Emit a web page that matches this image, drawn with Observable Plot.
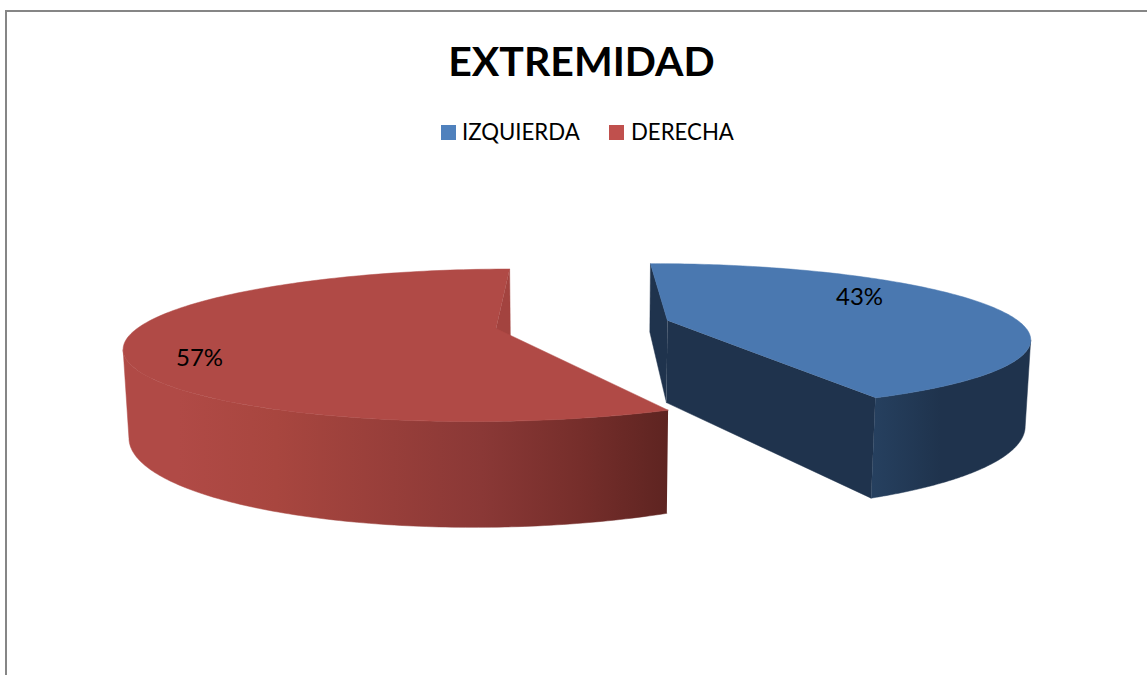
<!DOCTYPE html>
<html lang="es">
<head>
<meta charset="utf-8">
<title>EXTREMIDAD</title>
<script src="https://cdn.jsdelivr.net/npm/d3@7"></script>
<script src="https://cdn.jsdelivr.net/npm/@observablehq/plot@0.6"></script>
<style>
  html, body { margin: 0; padding: 0; background: #fff; width: 1147px; height: 675px; overflow: hidden; }
  body { position: relative; font-family: Lato, "Open Sans", sans-serif; color: #000; }
  #frame { position: absolute; left: 5px; top: 10px; width: 1200px; height: 800px; border-top: 2px solid #868686; border-left: 2px solid #868686; }
  #title { position: absolute; left: 0; width: 1163px; top: 36px; text-align: center; font-size: 41px; line-height: 50px; font-weight: 700; white-space: nowrap; }
  .lg { position: absolute; top: 118px; font-size: 22.2px; line-height: 28px; white-space: nowrap; }
  .sw { position: absolute; top: 125px; width: 15px; height: 15px; }
  #chart { position: absolute; left: 0; top: 150px; }
  #chart svg { display: block; }
</style>
</head>
<body>
<div id="frame"></div>
<div id="title"></div>
<div id="legend"></div>
<div id="chart"></div>
<script>
// Data
const chartTitle = "EXTREMIDAD";
const categories = ["IZQUIERDA", "DERECHA"];
const percentages = [43, 57];
const legendColors = ["#4f81bd", "#c0504d"];

// Perspective projection of the exploded 3D pie (all layout, no data)
const cam = {x0: 582.3, y0: 324, sx: 363, sy: 72.5, p: 0.222, radius: 0.977, ex: 0.236, ey: 0.055, depth: 84, dw: 0.012};
const bisector = 13; // degrees, middle of first slice
const rad = (d) => (d * Math.PI) / 180;
function project(X, Y, bottom) {
  const w = 1 + cam.p * Y + (bottom ? cam.dw : 0);
  return {x: cam.x0 + (cam.sx * X) / w, y: cam.y0 + (-cam.sy * Y + (bottom ? cam.depth : 0)) / w};
}
const total = d3.sum(percentages);
const sweepBlue = (percentages[0] / total) * 360;
const sweepRed = (percentages[1] / total) * 360;
const blueStart = bisector + sweepBlue / 2;
const blueEnd = bisector - sweepBlue / 2;
const redStart = blueEnd;
const redEnd = redStart - sweepRed;
const blueC = [cam.ex, cam.ey];
const redC = [-cam.ex, -cam.ey];
const rim = (c, t, b) => project(c[0] + cam.radius * Math.cos(rad(t)), c[1] + cam.radius * Math.sin(rad(t)), b);
const hub = (c, b) => project(c[0], c[1], b);
const sweep = (a, b, n) => d3.range(n + 1).map((i) => a + ((b - a) * i) / n);

const topFace = (c, a, b) => [hub(c, false), ...sweep(a, b, 160).map((t) => rim(c, t, false))];
const wall = (c, t) => [hub(c, false), rim(c, t, false), rim(c, t, true), hub(c, true)];
const side = (c, a, b) => {
  const ts = sweep(a, b, 120);
  return [...ts.map((t) => rim(c, t, false)), ...ts.slice().reverse().map((t) => rim(c, t, true))];
};
// Angles where each curved side meets its silhouette
const redEdge = d3.least(sweep(redStart, redEnd, 800), (t) => rim(redC, t, false).x);
const blueEdge = d3.greatest(sweep(blueStart, blueEnd, 800), (t) => rim(blueC, t, false).x);

const poly = (pts, color) => Plot.line(pts, {x: "x", y: "y", fill: color, stroke: color, strokeWidth: 0.5, curve: "linear"});

// Horizontal shading of the curved sides
function gradient(id, x1, x2, stops) {
  return `<linearGradient id="${id}" gradientUnits="userSpaceOnUse" x1="${x1}" x2="${x2}" y1="0" y2="0">` +
    stops.map(([o, c]) => `<stop offset="${o}" stop-color="${c}"/>`).join("") + `</linearGradient>`;
}
const defsMark = () => {
  const g = document.createElementNS("http://www.w3.org/2000/svg", "defs");
  g.innerHTML =
    gradient("redSide", 178, 667, [[0, "#b04a46"], [0.2, "#a8463f"], [0.62, "#8a3836"], [0.82, "#762e2b"], [1, "#5e2421"]]) +
    gradient("blueSide", 873, 940, [[0, "#26405f"], [1, "#1f334d"]]);
  return g;
};

document.getElementById("title").textContent = chartTitle;
const lgX = [[441, 462], [609, 631]];
document.getElementById("legend").innerHTML = categories.map((c, i) =>
  `<div class="sw" style="left:${lgX[i][0]}px;background:${legendColors[i]}"></div><div class="lg" style="left:${lgX[i][1]}px">${c}</div>`).join("");

const plot = Plot.plot({
  width: 1147, height: 525,
  margin: 0,
  x: {domain: [0, 1147], range: [0, 1147], axis: null},
  y: {domain: [150, 675], range: [0, 525], axis: null},
  style: {background: "transparent"},
  marks: [
    defsMark,
    poly(side(redC, redStart, redEdge), "url(#redSide)"),
    poly(wall(redC, redEnd), "#a3433f"),
    poly(topFace(redC, redStart, redEnd), "#b04a46"),
    poly(wall(blueC, blueStart), "#1f334d"),
    poly(wall(blueC, blueEnd), "#1f334d"),
    poly(side(blueC, blueEnd, blueEdge), "url(#blueSide)"),
    poly(topFace(blueC, blueStart, blueEnd), "#4a78b0"),
    Plot.text(percentages, {
      x: (d, i) => [859, 199][i], y: (d, i) => [297, 358][i],
      text: (d) => `${d}%`, fontSize: 24, fontFamily: "Lato", fill: "#000"
    })
  ]
});
document.getElementById("chart").append(plot);
</script>
</body>
</html>
